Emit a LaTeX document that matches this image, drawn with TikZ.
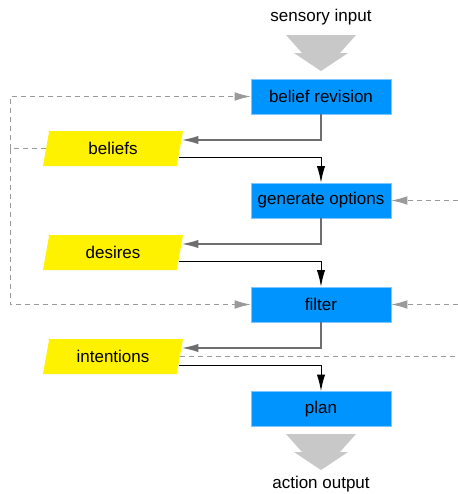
\documentclass[tikz,border=0pt]{standalone}
\usepackage{fontspec}
\setmainfont{Liberation Sans}
\usetikzlibrary{arrows.meta,shapes.geometric,calc}
\definecolor{procblue}{HTML}{0094FF}
\definecolor{procedge}{HTML}{80C6FF}
\definecolor{bigarrow}{HTML}{C8C8C8}
\definecolor{fbgray}{HTML}{9A9A9A}
\definecolor{ingray}{HTML}{6E6E6E}
\tikzset{
  proc/.style={rectangle,fill=procblue,draw=procedge,line width=0.5pt,minimum width=105pt,minimum height=26.25pt,inner sep=0pt},
  data/.style={trapezium,trapezium left angle=63.4,trapezium right angle=116.6,trapezium stretches body,fill=yellow,minimum width=105pt,minimum height=26.25pt,inner sep=0pt},
  flow/.style={line width=0.75pt,-{Latex[length=12.5pt,width=6.2pt]}},
  store/.style={flow,ingray,line width=1.1pt},
  fb/.style={fbgray,line width=0.75pt,dash pattern=on 3.75pt off 3pt,-{Latex[length=12pt,width=6.5pt]}},
  io/.style={inner sep=0pt},
}
\begin{document}
\begin{tikzpicture}[x=0.75pt,y=-0.75pt,font=\fontsize{12.75}{15}\selectfont]
\useasboundingbox (0,0) rectangle (458,494);
\coordinate (loop) at (10,0);
\coordinate (rim) at (458,0);
% big in/out arrows
\fill[bigarrow](286,35)--(356,35)--(340,53)--(348,53)--(321,71)--(294,53)--(302,53)--cycle;
\fill[bigarrow](286,434)--(356,434)--(340,452)--(348,452)--(321,470)--(294,452)--(302,452)--cycle;
\node[io](sense) at (321,17){sensory input};
\node[io](act) at (321,484){action output};
% processes and data
\node[proc](brev) at (321,96.5){belief revision};
\node[data](beliefs) at (113,148.5){beliefs};
\node[proc](genopt) at (321,200.5){generate options};
\node[data](desires) at (113,252.5){desires};
\node[proc](filter) at (321,304.5){filter};
\node[data](intent) at (113,356.5){intentions};
\node[proc](plan) at (321,409){plan};
% main flow
\draw[store](brev.south)|-($(beliefs.top right corner)!.26!(beliefs.bottom right corner)$);
\draw[flow]($(beliefs.top right corner)!.74!(beliefs.bottom right corner)$)-|(genopt.north);
\draw[store](genopt.south)|-($(desires.top right corner)!.26!(desires.bottom right corner)$);
\draw[flow]($(desires.top right corner)!.74!(desires.bottom right corner)$)-|(filter.north);
\draw[store](filter.south)|-($(intent.top right corner)!.26!(intent.bottom right corner)$);
\draw[flow]($(intent.top right corner)!.74!(intent.bottom right corner)$)-|(plan.north);
% feedback
\draw[fb,-](beliefs.west)--(beliefs.west-|loop);
\draw[fb](beliefs.west-|loop)|-(brev.west);
\draw[fb](beliefs.west-|loop)|-(filter.west);
\draw[fb](genopt.east-|rim)--(genopt.east);
\draw[fb](filter.east-|rim)--(filter.east);
\draw[fb,-](intent.east)--(intent.east-|rim);
\end{tikzpicture}
\end{document}
